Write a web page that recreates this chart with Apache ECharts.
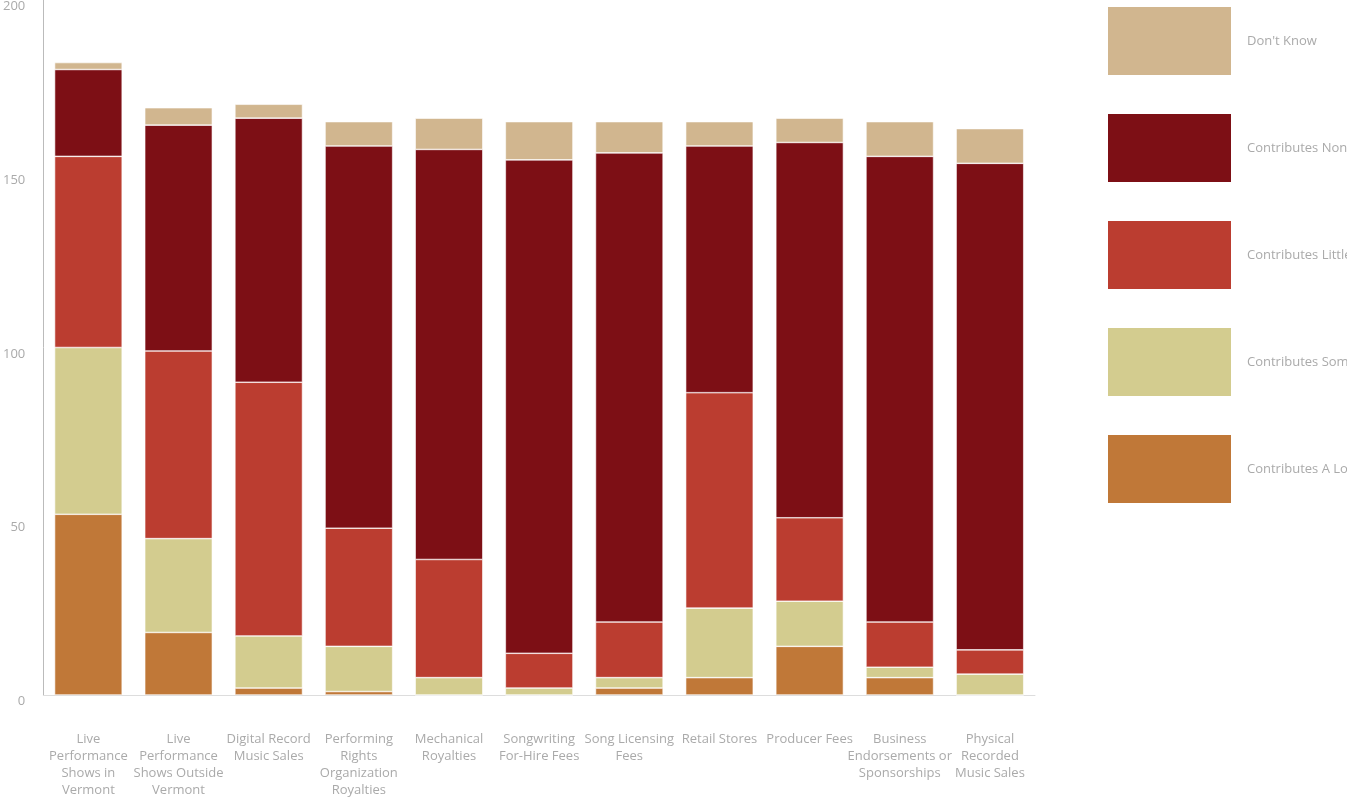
<!DOCTYPE html>
<html><head><meta charset="utf-8">
<script src="https://cdn.jsdelivr.net/npm/echarts@6/dist/echarts.min.js"></script>
<style>html,body{margin:0;padding:0;background:#fff}#c{width:1347px;height:799px}</style>
</head><body><div id="c"></div>
<script>
const categories = ["Live\nPerformance\nShows in\nVermont","Live\nPerformance\nShows Outside\nVermont","Digital Record\nMusic Sales","Performing\nRights\nOrganization\nRoyalties","Mechanical\nRoyalties","Songwriting\nFor-Hire Fees","Song Licensing\nFees","Retail Stores","Producer Fees","Business\nEndorsements or\nSponsorships","Physical\nRecorded\nMusic Sales"];
const aLot   = [52,18,2,1,0,0,2,5,14,5,0];
const some   = [48,27,15,13,5,2,3,20,13,3,6];
const little = [55,54,73,34,34,10,16,62,24,13,7];
const none   = [25,65,76,110,118,142,135,71,108,134,140];
const dontKnow = [2,5,4,7,9,11,9,7,7,10,10];
const yTicks = [0,50,100,150,200];

const names = ["Contributes A Lot","Contributes Some","Contributes Little","Contributes None","Don't Know"];
const colors = ["#c07838","#d3cc8f","#bb3d30","#7d0f15","#d1b68f"];
const data = [aLot,some,little,none,dontKnow];
const chart = echarts.init(document.getElementById('c'));
chart.setOption({
  animation:false,
  textStyle:{fontFamily:"Open Sans"},
  grid:{left:38,right:312,top:0,bottom:101},
  legend:{orient:'vertical',left:1101,top:0,itemWidth:125,itemHeight:70,itemGap:35,icon:'rect',
    data:names.slice().reverse(),textStyle:{color:'#aaa',fontSize:13,padding:[0,0,0,10]}},
  xAxis:{type:'category',data:categories,
    axisLine:{lineStyle:{color:'#ddd'}},
    axisTick:{length:18,lineStyle:{color:'#ddd'}},
    axisLabel:{color:'#aaa',fontSize:13,margin:36,lineHeight:17,interval:0}},
  yAxis:{type:'value',min:0,max:200,interval:50,
    axisLine:{show:true,lineStyle:{color:'#bbb'}},
    axisTick:{show:false},splitLine:{show:false},
    axisLabel:{color:'#aaa',fontSize:13,margin:18,verticalAlign:'top',
      formatter:v=>yTicks.includes(v)?String(v):''}},
  series:data.map((d,i)=>({name:names[i],type:'bar',stack:'s',data:d,barWidth:'75%',
    itemStyle:{color:colors[i],borderColor:'#fff',borderWidth:0.6}}))
});
</script></body></html>
